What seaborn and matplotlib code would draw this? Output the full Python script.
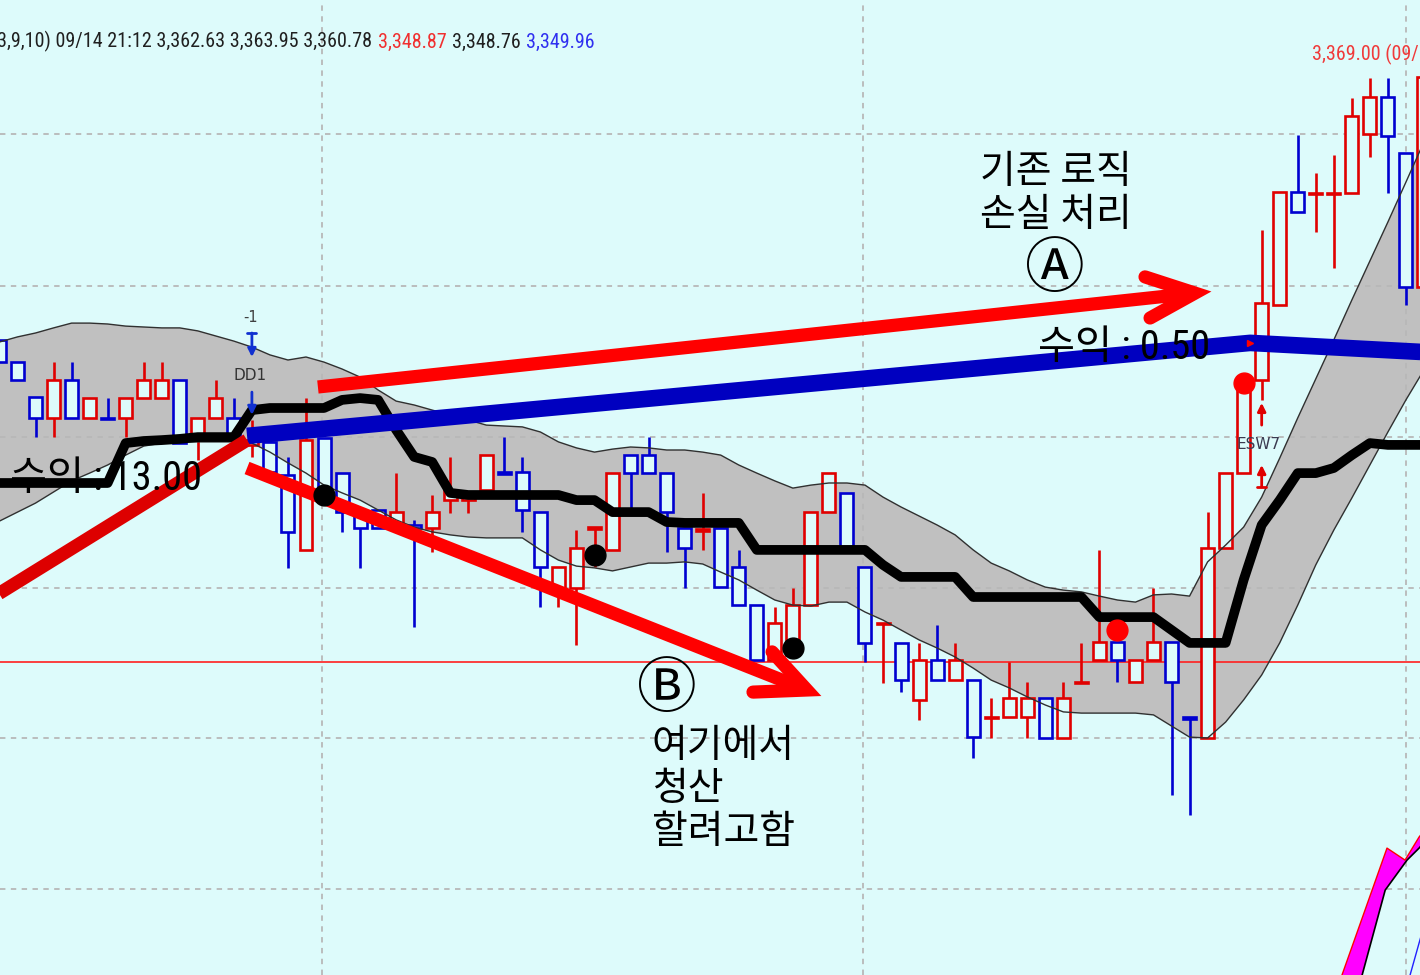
#!/usr/bin/env python3
"""
분봉 차트 재현: 캔들 + 밴드 + 수익선 + 설명 화살표
"""

import matplotlib
matplotlib.use("Agg")
import matplotlib.pyplot as plt
import matplotlib.font_manager as fm
import numpy as np
import pandas as pd
import seaborn as sns

# ---- 캔들 데이터 (왼쪽부터 80개 봉) ----
opens = [3360.27, 3359.53, 3358.37, 3357.67, 3358.93, 3357.67, 3357.67, 3357.67, 3358.33, 3358.33,
         3358.93, 3357.03, 3357.67, 3357.67, 3356.77, 3356.87, 3355.77, 3353.27, 3357.00, 3355.83,
         3354.53, 3354.60, 3354.10, 3354.10, 3354.00, 3354.93, 3354.93, 3355.27, 3355.87, 3355.87,
         3354.53, 3352.00, 3352.00, 3353.97, 3353.27, 3356.43, 3356.43, 3355.83, 3354.00, 3353.90,
         3354.00, 3352.70, 3351.43, 3349.60, 3349.77, 3351.43, 3354.53, 3355.17, 3352.70, 3350.80,
         3350.17, 3348.27, 3349.60, 3348.93, 3348.93, 3347.67, 3347.70, 3347.70, 3348.33, 3347.00,
         3348.83, 3349.60, 3350.20, 3348.87, 3349.60, 3350.20, 3347.70, 3347.00, 3353.33, 3355.83,
         3358.93, 3361.43, 3365.20, 3365.13, 3365.13, 3365.17, 3367.13, 3368.37, 3366.50, 3362.03]
highs = [3360.27, 3359.53, 3358.37, 3359.53, 3359.53, 3358.33, 3358.33, 3358.33, 3359.53, 3359.53,
         3358.93, 3357.67, 3358.93, 3358.33, 3357.60, 3356.87, 3356.37, 3358.33, 3357.00, 3355.83,
         3354.53, 3354.60, 3355.83, 3354.27, 3355.10, 3356.37, 3355.20, 3356.43, 3357.03, 3356.37,
         3354.53, 3352.70, 3353.93, 3354.03, 3355.83, 3356.43, 3357.03, 3355.83, 3354.00, 3355.17,
         3354.00, 3353.27, 3351.43, 3351.37, 3352.00, 3354.53, 3355.83, 3355.17, 3352.70, 3350.83,
         3350.17, 3350.17, 3350.77, 3350.17, 3348.93, 3348.33, 3349.53, 3348.87, 3348.33, 3348.87,
         3350.17, 3353.27, 3350.20, 3349.60, 3352.00, 3350.20, 3347.70, 3354.53, 3355.83, 3358.93,
         3363.93, 3365.20, 3367.10, 3365.83, 3366.43, 3368.33, 3369.00, 3369.00, 3366.50, 3369.03]
lows = [3359.53, 3358.93, 3357.03, 3357.03, 3357.67, 3357.67, 3357.63, 3357.03, 3358.33, 3358.33,
        3356.83, 3356.27, 3357.67, 3357.03, 3356.37, 3355.87, 3352.67, 3353.27, 3354.93, 3353.87,
        3352.67, 3354.00, 3354.10, 3350.70, 3353.20, 3354.50, 3354.50, 3355.10, 3355.80, 3353.87,
        3351.37, 3351.37, 3350.10, 3352.70, 3353.27, 3354.60, 3355.83, 3353.20, 3352.00, 3353.27,
        3352.03, 3351.43, 3349.60, 3349.60, 3349.77, 3351.43, 3354.53, 3353.37, 3349.53, 3348.83,
        3348.53, 3347.60, 3348.93, 3348.93, 3346.33, 3347.00, 3347.70, 3347.00, 3347.00, 3347.00,
        3348.83, 3349.60, 3348.87, 3348.87, 3349.60, 3345.10, 3344.43, 3347.00, 3353.33, 3355.83,
        3358.27, 3361.43, 3364.53, 3363.87, 3362.67, 3365.17, 3366.37, 3365.17, 3361.43, 3362.03]
closes = [3359.53, 3358.93, 3357.67, 3358.93, 3357.67, 3358.33, 3357.63, 3358.33, 3358.93, 3358.93,
          3356.83, 3357.67, 3358.33, 3357.03, 3356.93, 3355.87, 3353.87, 3356.93, 3354.93, 3354.53,
          3354.00, 3354.00, 3354.53, 3354.00, 3354.53, 3355.27, 3355.20, 3356.43, 3355.80, 3354.60,
          3352.70, 3352.70, 3353.33, 3354.03, 3355.83, 3355.83, 3355.83, 3354.53, 3353.33, 3353.97,
          3352.03, 3351.43, 3349.60, 3350.83, 3351.43, 3354.53, 3355.83, 3353.37, 3350.17, 3350.83,
          3348.93, 3349.60, 3348.93, 3349.60, 3347.03, 3347.70, 3348.33, 3348.33, 3347.00, 3348.33,
          3348.87, 3350.20, 3349.60, 3349.60, 3350.20, 3348.87, 3347.63, 3353.33, 3355.83, 3358.93,
          3361.50, 3365.20, 3364.53, 3365.17, 3365.17, 3367.73, 3368.37, 3367.07, 3362.03, 3369.03]

# ---- 밴드 상단 / 하단 / 중심선 ----
band_upper = [3360.20, 3360.37, 3360.50, 3360.67, 3360.83, 3360.83, 3360.80, 3360.73, 3360.70, 3360.67,
              3360.67, 3360.57, 3360.40, 3360.23, 3360.03, 3359.77, 3359.60, 3359.70, 3359.53, 3359.30,
              3359.03, 3358.60, 3358.23, 3358.10, 3357.93, 3357.77, 3357.60, 3357.43, 3357.40, 3357.37,
              3357.20, 3356.87, 3356.67, 3356.53, 3356.63, 3356.70, 3356.67, 3356.60, 3356.60, 3356.53,
              3356.43, 3356.10, 3355.83, 3355.57, 3355.33, 3355.43, 3355.50, 3355.50, 3355.43, 3355.03,
              3354.70, 3354.40, 3354.10, 3353.77, 3353.27, 3352.83, 3352.57, 3352.27, 3352.03, 3351.93,
              3351.87, 3351.73, 3351.60, 3351.53, 3351.77, 3351.80, 3351.73, 3352.87, 3353.43, 3354.03,
              3355.03, 3356.33, 3357.67, 3358.97, 3360.27, 3361.60, 3362.90, 3364.20, 3365.53, 3366.87]
band_lower = [3354.23, 3354.53, 3354.83, 3355.20, 3355.57, 3355.83, 3356.10, 3356.43, 3356.73, 3356.83,
              3356.87, 3356.87, 3356.87, 3356.87, 3356.83, 3356.53, 3356.17, 3355.83, 3355.43, 3355.17,
              3354.93, 3354.60, 3354.27, 3354.03, 3353.87, 3353.77, 3353.70, 3353.67, 3353.67, 3353.67,
              3353.27, 3352.93, 3352.73, 3352.67, 3352.57, 3352.70, 3352.83, 3352.83, 3352.87, 3352.80,
              3352.53, 3352.27, 3351.93, 3351.60, 3351.43, 3351.40, 3351.53, 3351.53, 3351.20, 3350.93,
              3350.60, 3350.27, 3350.00, 3349.70, 3349.33, 3348.93, 3348.67, 3348.37, 3348.10, 3347.87,
              3347.83, 3347.83, 3347.83, 3347.83, 3347.77, 3347.40, 3347.03, 3347.00, 3347.53, 3348.27,
              3349.10, 3350.17, 3351.43, 3352.77, 3353.93, 3355.00, 3356.10, 3357.20, 3358.27, 3359.27]
center_line = [3355.50, 3355.50, 3355.50, 3355.50, 3355.50, 3355.50, 3355.50, 3356.83, 3356.90, 3356.93,
               3356.97, 3357.03, 3357.03, 3357.03, 3357.93, 3358.00, 3358.00, 3358.00, 3358.00, 3358.27,
               3358.33, 3358.27, 3357.27, 3356.37, 3356.20, 3355.17, 3355.10, 3355.10, 3355.10, 3355.10,
               3355.10, 3355.10, 3354.93, 3354.93, 3354.53, 3354.53, 3354.53, 3354.20, 3354.17, 3354.17,
               3354.17, 3354.17, 3353.27, 3353.27, 3353.27, 3353.27, 3353.27, 3353.27, 3353.27, 3352.77,
               3352.37, 3352.37, 3352.37, 3352.37, 3351.70, 3351.70, 3351.70, 3351.70, 3351.70, 3351.70,
               3351.70, 3351.03, 3351.03, 3351.03, 3351.03, 3350.60, 3350.17, 3350.17, 3350.17, 3352.27,
               3354.10, 3354.93, 3355.83, 3355.83, 3356.00, 3356.43, 3356.83, 3356.77, 3356.77, 3356.77]

# ---- 신호 점 ----
black_sig_idx = [18, 33, 44]
black_sig_price = [3355.10, 3353.10, 3350.00]
red_sig_idx = [62, 69]
red_sig_price = [3350.60, 3358.83]

# ---- 수익선 (파란 굵은 선) ----
profit_x = [13.73, 69.36, 78.80]
profit_y = [3357.07, 3360.17, 3359.87]

# ---- 설명용 빨간 선/화살표 ----
entry_line_x = [-0.50, 13.73]
entry_line_y = [3351.64, 3356.93]
arrow_a_x = [17.66, 66.30]
arrow_a_y = [3358.70, 3361.83]
arrow_a_head_x = [63.53, 66.30, 63.81]
arrow_a_head_y = [3362.37, 3361.83, 3361.00]
arrow_b_x = [13.73, 44.78]
arrow_b_y = [3356.00, 3348.60]
arrow_b_head_x = [42.85, 44.78, 41.79]
arrow_b_head_y = [3349.87, 3348.60, 3348.53]

# ---- 오른쪽 아래 보조지표 (마젠타) ----
osc_top_x = [74.10, 76.95, 77.95, 78.73, 79.40]
osc_top_y = [3338.50, 3343.33, 3342.93, 3343.70, 3344.20]
osc_bot_x = [75.30, 76.85, 78.06, 78.73, 79.40]
osc_bot_y = [3338.50, 3341.93, 3342.93, 3343.33, 3343.80]
osc_sig_x = [77.95, 79.40]
osc_sig_y = [3338.50, 3341.60]

# ---- 기준선 ----
grid_prices = [3341.97, 3347.00, 3352.00, 3357.03, 3362.07, 3367.13]
grid_idx = [17.9, 47.9, 78.0]
last_price = 3349.53

header_parts = [("3,9,10) 09/14 21:12 3,362.63 3,363.95 3,360.78", "#202020"),
                ("3,348.87", "#f03030"),
                ("3,348.76", "#202020"),
                ("3,349.96", "#3030f0")]

BG = "#DDFBFB"
RED = "#e00000"
BLUE = "#0000d0"


def pick_narrow_font():
    names = {f.name for f in fm.fontManager.ttflist}
    for name in ["Liberation Sans Narrow", "Roboto Condensed", "Liberation Sans"]:
        if name in names:
            return name
    return "DejaVu Sans"


def main():
    sns.set_theme(style="white")
    plt.rcParams["font.family"] = ["Noto Sans CJK KR", "DejaVu Sans"]
    narrow = pick_narrow_font()
    is_narrow = "Narrow" in narrow or "Condensed" in narrow

    idx = np.arange(len(opens))
    df = pd.DataFrame({"idx": idx, "open": opens, "high": highs, "low": lows, "close": closes,
                       "upper": band_upper, "lower": band_lower, "center": center_line})
    df["up"] = df["close"] >= df["open"]

    fig = plt.figure(figsize=(14.2, 9.75), dpi=100)
    fig.patch.set_facecolor(BG)
    ax = fig.add_axes([0, 0, 1, 1])
    ax.set_facecolor(BG)

    # 밴드 영역
    ax.fill_between(df["idx"], df["lower"], df["upper"], color="#c0c0c0", lw=0, zorder=1)

    # 격자 / 현재가 선
    for p in grid_prices:
        ax.axhline(p, color="#b8b8b8", lw=1.3, ls=(0, (3, 3)), zorder=2)
    for g in grid_idx:
        ax.axvline(g, color="#b8b8b8", lw=1.3, ls=(0, (3, 3)), zorder=2)
    ax.axhline(last_price, color="#ff2020", lw=1.2, zorder=2)

    # 캔들
    colors = np.where(df["up"], RED, BLUE)
    ax.vlines(df["idx"], df["low"], df["high"], colors=colors, lw=1.9, zorder=3)
    body_lo = np.minimum(df["open"], df["close"])
    body_h = np.abs(df["close"] - df["open"])
    ax.bar(df["idx"], body_h, bottom=body_lo, width=0.72, facecolor=BG,
           edgecolor=colors, linewidth=1.9, zorder=4)

    # 밴드 선 + 중심선
    sns.lineplot(data=df, x="idx", y="upper", ax=ax, color="#303030", lw=1.0, zorder=5)
    sns.lineplot(data=df, x="idx", y="lower", ax=ax, color="#303030", lw=1.0, zorder=5)
    sns.lineplot(data=df, x="idx", y="center", ax=ax, color="black", lw=7,
                 solid_joinstyle="round", zorder=6)

    # 수익선
    ax.plot(profit_x, profit_y, color="#0000c0", lw=12, solid_capstyle="butt", zorder=7)
    ax.plot([profit_x[1]], [profit_y[1]], marker=">", color="red", ms=4, zorder=8)

    # 설명 화살표
    ax.plot(entry_line_x, entry_line_y, color="#dd0000", lw=9.5, solid_capstyle="butt", zorder=8)
    ax.plot(arrow_a_x, arrow_a_y, color="#ff0000", lw=9.5, solid_capstyle="butt", zorder=8)
    ax.plot(arrow_a_head_x, arrow_a_head_y, color="#ff0000", lw=9.5,
            solid_capstyle="round", solid_joinstyle="miter", zorder=8)
    ax.plot(arrow_b_x, arrow_b_y, color="#ff0000", lw=9.5, solid_capstyle="butt", zorder=8)
    ax.plot(arrow_b_head_x, arrow_b_head_y, color="#ff0000", lw=9.5,
            solid_capstyle="round", solid_joinstyle="miter", zorder=8)

    # 신호 점
    ax.plot(black_sig_idx, black_sig_price, "o", color="black", ms=15, zorder=9)
    ax.plot(red_sig_idx, red_sig_price, "o", color="#ff0000", ms=15, zorder=9)

    # 보조지표
    ax.fill(osc_top_x + osc_bot_x[::-1], osc_top_y + osc_bot_y[::-1],
            facecolor="#ff00ff", edgecolor="none", zorder=3)
    ax.plot(osc_top_x, osc_top_y, color="#ff0000", lw=1.0, zorder=3)
    ax.plot(osc_bot_x, osc_bot_y, color="black", lw=1.2, zorder=3)
    ax.plot(osc_sig_x, osc_sig_y, color="#2020ff", lw=1.0, zorder=3)

    # DD1 / ESW7 표시 화살표
    arrow_kw = dict(arrowstyle="-|>", lw=2, mutation_scale=12, shrinkA=0, shrinkB=0)
    ax.annotate("", xy=(14, 3359.70), xytext=(14, 3360.50),
                arrowprops=dict(color="#1030d0", **arrow_kw), zorder=9)
    ax.plot([13.75, 14.25], [3360.50, 3360.50], color="#1030d0", lw=2, zorder=9)
    ax.annotate("", xy=(14, 3357.77), xytext=(14, 3358.53),
                arrowprops=dict(color="#1030d0", **arrow_kw), zorder=9)
    ax.annotate("", xy=(70, 3358.17), xytext=(70, 3357.43),
                arrowprops=dict(color="#e00000", **arrow_kw), zorder=9)
    ax.annotate("", xy=(70, 3356.10), xytext=(70, 3355.37),
                arrowprops=dict(color="#e00000", **arrow_kw), zorder=9)
    ax.plot([69.75, 70.25], [3355.37, 3355.37], color="#e00000", lw=2, zorder=9)

    ax.set_xlim(0.03, 78.78)
    ax.set_ylim(3339.1, 3371.6)
    ax.axis("off")

    # ---- 텍스트 ----
    tr = ax.transAxes
    hsize = 14.5 if is_narrow else 12
    hfam = [narrow, "DejaVu Sans"]
    prev = ax.text(-0.002, 0.957, header_parts[0][0], transform=tr, ha="left", va="center",
                   color=header_parts[0][1], fontsize=hsize, family=hfam, zorder=10)
    for txt, col in header_parts[1:]:
        prev = ax.annotate(txt, xy=(1, 0.5), xycoords=prev, xytext=(4, 0),
                           textcoords="offset points", ha="left", va="center", color=col,
                           fontsize=hsize, family=hfam, zorder=10)
    ax.text(0.924, 0.944, "3,369.00 (09/", transform=tr, ha="left", va="center",
            color="#f03a3a", fontsize=hsize, family=hfam, zorder=10)

    ax.text(0.1768, 0.674, "-1", transform=tr, ha="center", va="center",
            color="#404040", fontsize=10.5, family=["DejaVu Sans"], zorder=10)
    ax.text(0.176, 0.615, "DD1", transform=tr, ha="center", va="center",
            color="#333333", fontsize=11, family=["DejaVu Sans"], zorder=10)
    ax.text(0.886, 0.5436, "ESW7", transform=tr, ha="center", va="center",
            color="#3a3a50", fontsize=11, family=["DejaVu Sans"], zorder=10)

    big_fam = [narrow, "Noto Sans CJK KR"]
    ax.text(0.007, 0.5097, "수익 : 13.00", transform=tr, ha="left", va="center",
            color="black", fontsize=29, family=big_fam, zorder=10)
    ax.text(0.731, 0.644, "수익 : 0.50", transform=tr, ha="left", va="center",
            color="black", fontsize=29, family=big_fam, zorder=10)

    kr = ["Noto Sans CJK KR"]
    ax.text(0.690, 0.802, "기존 로직\n손실 처리", transform=tr, ha="left", va="center",
            color="black", fontsize=28, linespacing=1.1, family=kr, zorder=10)
    ax.text(0.743, 0.723, "Ⓐ", transform=tr, ha="center", va="center",
            color="black", fontsize=43, family=kr, zorder=10)
    ax.text(0.4697, 0.2923, "Ⓑ", transform=tr, ha="center", va="center",
            color="black", fontsize=43, family=kr, zorder=10)
    ax.text(0.459, 0.191, "여기에서\n청산\n할려고함", transform=tr, ha="left", va="center",
            color="black", fontsize=28, linespacing=1.1, family=kr, zorder=10)

    fig.savefig("out.png", dpi=100, facecolor=BG)
    plt.close(fig)


if __name__ == "__main__":
    main()
